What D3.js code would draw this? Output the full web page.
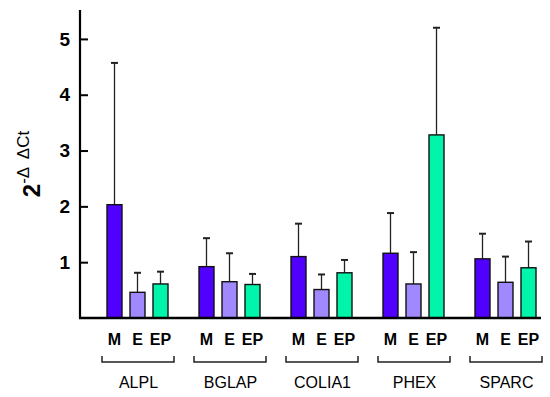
<!DOCTYPE html>
<html>
<head>
<meta charset="utf-8">
<script src="https://cdn.jsdelivr.net/npm/d3@7"></script>
<style>
  body { margin: 0; background: #fff; }
  text { font-family: "Liberation Sans", Arial, sans-serif; }
</style>
</head>
<body>
<script>
var genes = ["ALPL", "BGLAP", "COLIA1", "PHEX", "SPARC"];
var groups = ["M", "E", "EP"];
var meanM  = [2.03, 0.92, 1.10, 1.16, 1.06];
var meanE  = [0.46, 0.65, 0.51, 0.61, 0.64];
var meanEP = [0.61, 0.60, 0.81, 3.28, 0.90];
var errM   = [4.57, 1.43, 1.69, 1.88, 1.51];
var errE   = [0.81, 1.16, 0.78, 1.18, 1.10];
var errEP  = [0.83, 0.79, 1.04, 5.20, 1.37];
var yTicks = [1, 2, 3, 4, 5];
var colors = ["#4f00ff", "#a088ff", "#00f5aa"];

var rows = [];
genes.forEach(function(g, i) {
  rows.push({gene: g, grp: "M",  v: meanM[i],  e: errM[i]});
  rows.push({gene: g, grp: "E",  v: meanE[i],  e: errE[i]});
  rows.push({gene: g, grp: "EP", v: meanEP[i], e: errEP[i]});
});

var svg = d3.select("body").append("svg")
    .attr("width", 550)
    .attr("height", 397);

var x0 = d3.scaleBand().domain(genes).range([107, 536]).paddingInner(0.337);
var x1 = d3.scaleBand().domain(groups).range([0, x0.bandwidth()]).paddingInner(0.348);
var y = d3.scaleLinear().domain([0, 5.5]).range([318, 11]);
var color = d3.scaleOrdinal().domain(groups).range(colors);

// error bars (behind bars)
var eb = svg.append("g").selectAll("g")
    .data(rows).enter().append("g")
    .attr("transform", function(d) { return "translate(" + (x0(d.gene) + x1(d.grp) + x1.bandwidth() / 2) + ",0)"; });
eb.append("line")
    .attr("y1", function(d) { return y(d.v); })
    .attr("y2", function(d) { return y(d.e); })
    .attr("stroke", "#222").attr("stroke-width", 1.3);
eb.append("line")
    .attr("x1", -3.5).attr("x2", 3.5)
    .attr("y1", function(d) { return y(d.e); })
    .attr("y2", function(d) { return y(d.e); })
    .attr("stroke", "#222").attr("stroke-width", 2);

// bars
svg.append("g").selectAll("rect")
    .data(rows).enter().append("rect")
    .attr("x", function(d) { return x0(d.gene) + x1(d.grp); })
    .attr("y", function(d) { return y(d.v); })
    .attr("width", x1.bandwidth())
    .attr("height", function(d) { return y(0) - y(d.v); })
    .attr("fill", function(d) { return color(d.grp); })
    .attr("stroke", "#111")
    .attr("stroke-width", 1.4);

// y axis
var yAxis = svg.append("g")
    .attr("transform", "translate(80,0)")
    .call(d3.axisLeft(y).tickValues(yTicks).tickSizeInner(-8).tickSizeOuter(0).tickPadding(10).tickFormat(d3.format("d")));
yAxis.select(".domain").attr("stroke", "#000").attr("stroke-width", 2.2)
    .attr("d", "M0," + y(0) + "V10");
yAxis.selectAll(".tick line").attr("stroke", "#000").attr("stroke-width", 2);
yAxis.selectAll(".tick text")
    .attr("font-size", "19px").attr("font-weight", "bold").attr("fill", "#000")
    .style("font-family", "'Liberation Sans', Arial, sans-serif");

// x axis line
svg.append("line")
    .attr("x1", 79).attr("x2", x0.range()[1] + 5)
    .attr("y1", y(0)).attr("y2", y(0))
    .attr("stroke", "#000").attr("stroke-width", 2.5);

// series labels
svg.append("g").selectAll("text")
    .data(rows).enter().append("text")
    .attr("x", function(d) { return x0(d.gene) + x1(d.grp) + x1.bandwidth() / 2; })
    .attr("y", 345)
    .attr("text-anchor", "middle")
    .attr("font-size", "16px")
    .attr("font-weight", "bold")
    .text(function(d) { return d.grp; });

// brackets and gene labels
var br = svg.append("g").selectAll("g")
    .data(genes).enter().append("g");
br.append("path")
    .attr("d", function(g) {
      var a = x0(g) - 5, b = x0(g) + x0.bandwidth() + 6;
      return "M" + a + ",356V362H" + b + "V356";
    })
    .attr("fill", "none").attr("stroke", "#222").attr("stroke-width", 1.5);
br.append("text")
    .attr("x", function(g) { return x0(g) + x0.bandwidth() / 2 + 1; })
    .attr("y", 388)
    .attr("text-anchor", "middle")
    .attr("font-size", "16px")
    .text(function(g) { return g; });

// y label
var yl = svg.append("text")
    .attr("transform", "translate(40,164) rotate(-90)")
    .attr("text-anchor", "middle")
    .attr("xml:space", "preserve");
yl.append("tspan").attr("font-size", "24px").attr("font-weight", "bold").text("2");
yl.append("tspan").attr("font-size", "17px").attr("dy", -11).text("-\u0394  \u0394Ct");
</script>
</body>
</html>
